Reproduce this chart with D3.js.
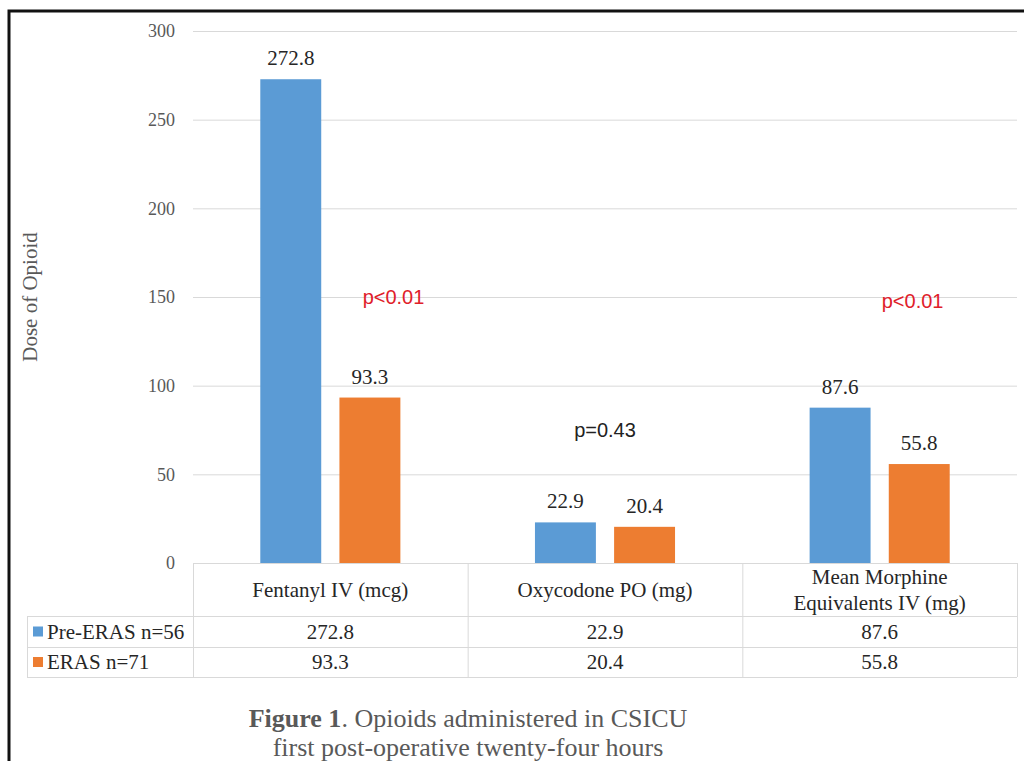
<!DOCTYPE html>
<html>
<head>
<meta charset="utf-8">
<script src="https://cdn.jsdelivr.net/npm/d3@7"></script>
<style>
  body { margin: 0; background: #fff; }
  svg { display: block; }
</style>
</head>
<body>
<div id="chart"></div>
<script>
// values
var categories = ["Fentanyl IV (mcg)", "Oxycodone PO (mg)", "Mean Morphine Equivalents IV (mg)"];
var categoryLines = [["Fentanyl IV (mcg)"], ["Oxycodone PO (mg)"], ["Mean Morphine", "Equivalents IV (mg)"]];
var seriesNames = ["Pre-ERAS n=56", "ERAS n=71"];
var preEras = [272.8, 22.9, 87.6];
var eras = [93.3, 20.4, 55.8];
var pValues = ["p<0.01", "p=0.43", "p<0.01"];
var yTicks = [0, 50, 100, 150, 200, 250, 300];

var width = 1024,
    height = 761;

var colors = ["#5b9bd5", "#ed7d31"];
var grid = "#d9d9d9";
var serif = "'Liberation Serif', 'Times New Roman', serif";

var svg = d3.select("#chart").append("svg")
    .attr("width", width)
    .attr("height", height);

// frame
svg.append("rect")
    .attr("x", 9).attr("y", 11)
    .attr("width", 1040).attr("height", 800)
    .attr("fill", "none")
    .attr("stroke", "#111")
    .attr("stroke-width", 3);

var plotLeft = 193, plotRight = 1017, plotTop = 31, plotBottom = 563;

var x = d3.scaleBand()
    .domain(categories)
    .range([plotLeft, plotRight])
    .padding(0);

var bw = x.bandwidth();
var x1 = d3.scaleBand()
    .domain(seriesNames)
    .range([bw * 0.245, bw * 0.755])
    .paddingInner(0.23);

var y = d3.scaleLinear()
    .domain([0, 300])
    .range([plotBottom, plotTop]);

// gridlines + tick labels
var yAxis = d3.axisLeft(y)
    .tickValues(yTicks)
    .tickSize(-(plotRight - plotLeft))
    .tickPadding(18);

var ga = svg.append("g")
    .attr("transform", "translate(" + plotLeft + ",0)")
    .call(yAxis);
ga.select(".domain").remove();
ga.selectAll(".tick line").attr("stroke", grid).attr("stroke-width", 1);
ga.selectAll(".tick text")
    .attr("fill", "#595959")
    .style("font-family", serif)
    .style("font-size", "18px");

// y title
svg.append("text")
    .attr("transform", "translate(37,297) rotate(-90)")
    .attr("text-anchor", "middle")
    .attr("fill", "#595959")
    .style("font-family", serif)
    .style("font-size", "21px")
    .text("Dose of Opioid");

// bars
var rows = categories.map(function(c, i) {
  return { cat: c, vals: [preEras[i], eras[i]] };
});

var groups = svg.selectAll(".grp")
    .data(rows)
    .enter().append("g")
    .attr("class", "grp")
    .attr("transform", function(d) { return "translate(" + x(d.cat) + ",0)"; });

groups.selectAll("rect")
    .data(function(d) { return d.vals.map(function(v, j) { return { s: seriesNames[j], v: v, j: j }; }); })
    .enter().append("rect")
    .attr("x", function(d) { return x1(d.s); })
    .attr("y", function(d) { return y(d.v); })
    .attr("width", x1.bandwidth())
    .attr("height", function(d) { return y(0) - y(d.v); })
    .attr("fill", function(d) { return colors[d.j]; });

groups.selectAll(".lbl")
    .data(function(d) { return d.vals.map(function(v, j) { return { s: seriesNames[j], v: v }; }); })
    .enter().append("text")
    .attr("class", "lbl")
    .attr("x", function(d) { return x1(d.s) + x1.bandwidth() / 2; })
    .attr("y", function(d) { return y(d.v) - 14; })
    .attr("text-anchor", "middle")
    .attr("fill", "#262626")
    .style("font-family", serif)
    .style("font-size", "21px")
    .text(function(d) { return d.v.toFixed(1); });

// p-value notes
var pY = [y(146), y(71), y(144)];
var pX = [x(categories[0]) + bw * 0.73, x(categories[1]) + bw * 0.5, x(categories[2]) + bw * 0.62];
svg.selectAll(".pv")
    .data(pValues)
    .enter().append("text")
    .attr("class", "pv")
    .attr("x", function(d, i) { return pX[i]; })
    .attr("y", function(d, i) { return pY[i]; })
    .attr("text-anchor", "middle")
    .attr("fill", function(d) { return d.indexOf("<") >= 0 ? "#e0202a" : "#222"; })
    .style("font-family", "'Liberation Sans', Arial, sans-serif")
    .style("font-size", "20px")
    .text(function(d) { return d; });

// data table
var rowLines = [plotBottom, 616, 647, 677];
var tbl = svg.append("g");
var tableLeft = 27;

tbl.selectAll(".hl")
    .data(rowLines)
    .enter().append("line")
    .attr("x1", function(d, i) { return i === 0 ? plotLeft : tableLeft; })
    .attr("x2", plotRight)
    .attr("y1", function(d) { return d + 0.5; })
    .attr("y2", function(d) { return d + 0.5; })
    .attr("stroke", grid);

var vx = categories.map(function(c) { return x(c); }).concat([plotRight]);
tbl.selectAll(".vl")
    .data(vx)
    .enter().append("line")
    .attr("x1", function(d) { return d + 0.5; })
    .attr("x2", function(d) { return d + 0.5; })
    .attr("y1", plotBottom)
    .attr("y2", rowLines[3])
    .attr("stroke", grid);

tbl.append("line")
    .attr("x1", tableLeft + 0.5).attr("x2", tableLeft + 0.5)
    .attr("y1", rowLines[1]).attr("y2", rowLines[3])
    .attr("stroke", grid);

// category headers
categoryLines.forEach(function(lines, i) {
  var cx = x(categories[i]) + bw / 2;
  var t = tbl.append("text")
      .attr("text-anchor", "middle")
      .attr("fill", "#262626")
      .style("font-family", serif)
      .style("font-size", "21px");
  lines.forEach(function(l, k) {
    var yy = lines.length === 1 ? 597 : 584 + k * 26;
    t.append("tspan").attr("x", cx).attr("y", yy).text(l);
  });
});

// series rows
var seriesVals = [preEras, eras];
seriesNames.forEach(function(name, j) {
  var cy = (rowLines[j + 1] + rowLines[j + 2]) / 2;
  tbl.append("rect")
      .attr("x", 33).attr("y", cy - 5)
      .attr("width", 10).attr("height", 10)
      .attr("fill", colors[j]);
  tbl.append("text")
      .attr("x", 47).attr("y", cy + 7)
      .attr("fill", "#262626")
      .style("font-family", serif)
      .style("font-size", "21px")
      .text(name);
  tbl.selectAll(".v" + j)
      .data(seriesVals[j])
      .enter().append("text")
      .attr("x", function(d, i) { return x(categories[i]) + bw / 2; })
      .attr("y", cy + 7)
      .attr("text-anchor", "middle")
      .attr("fill", "#262626")
      .style("font-family", serif)
      .style("font-size", "21px")
      .text(function(d) { return d.toFixed(1); });
});

// caption
var cap = svg.append("text")
    .attr("x", 468).attr("y", 727)
    .attr("text-anchor", "middle")
    .attr("fill", "#595959")
    .style("font-family", serif)
    .style("font-size", "26px");
cap.append("tspan").style("font-weight", "bold").text("Figure 1");
cap.append("tspan").text(". Opioids administered in CSICU");
svg.append("text")
    .attr("x", 468).attr("y", 756)
    .attr("text-anchor", "middle")
    .attr("fill", "#595959")
    .style("font-family", serif)
    .style("font-size", "26px")
    .text("first post-operative twenty-four hours");
</script>
</body>
</html>
